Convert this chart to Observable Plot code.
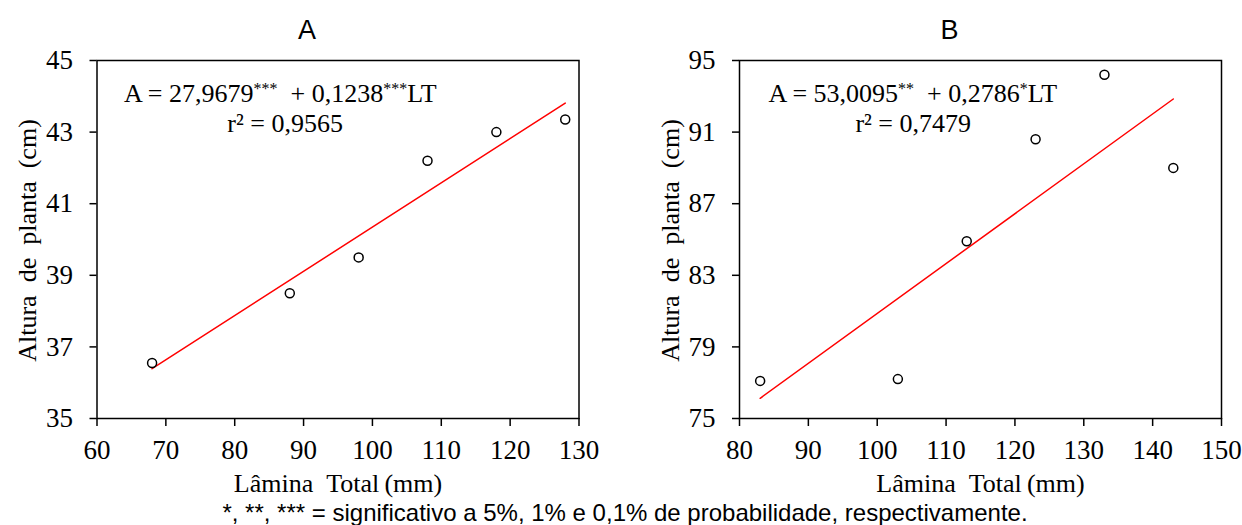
<!DOCTYPE html>
<html><head><meta charset="utf-8">
<script src="https://cdn.jsdelivr.net/npm/d3@7"></script>
<script src="https://cdn.jsdelivr.net/npm/@observablehq/plot@0.6"></script>
<style>
body{margin:0;background:#fff;width:1242px;height:525px;overflow:hidden;position:relative}
#row{display:flex}
#note{position:absolute;left:0;width:1250px;top:499px;text-align:center;font-family:"Liberation Sans",Arial,sans-serif;font-size:24px;line-height:28px;color:#000;white-space:nowrap}
</style></head><body>
<div id="row"></div>
<div id="note">*, **, *** = significativo a 5%, 1% e 0,1% de probabilidade, respectivamente.</div>
<script>
// Panel A data
const lamA = [68, 88, 98, 108, 118, 128];
const altA = [36.55, 38.5, 39.5, 42.2, 43.0, 43.35];
const fitXA = [68, 128];
const fitYA = [36.39, 43.81];
const xTicksA = [60, 70, 80, 90, 100, 110, 120, 130];
const yTicksA = [35, 37, 39, 41, 43, 45];
// Panel B data
const lamB = [83, 103, 113, 123, 133, 143];
const altB = [77.1, 77.2, 84.9, 90.6, 94.2, 89.0];
const fitXB = [83, 143];
const fitYB = [76.13, 92.85];
const xTicksB = [80, 90, 100, 110, 120, 130, 140, 150];
const yTicksB = [75, 79, 83, 87, 91, 95];

const serif = "'Liberation Serif','Times New Roman',serif";
const sans = "'Liberation Sans',Arial,sans-serif";
const xLabel = "Lâmina\u00a0\u00a0Total\u2009(mm)";
const yLabel = "Altura\u00a0\u00a0de\u00a0\u00a0planta\u00a0\u00a0(cm)";

function panel(o) {
  const data = o.lam.map((x, i) => ({x, y: o.alt[i]}));
  const fit = o.fitX.map((x, i) => ({x, y: o.fitY[i]}));
  const p = Plot.plot({
    width: o.width, height: 525,
    marginLeft: o.ml, marginRight: o.mr, marginTop: 60, marginBottom: 107,
    style: {fontFamily: serif, fontSize: "27px", color: "#000", background: "#fff", overflow: "visible"},
    x: {domain: [o.xTicks[0], o.xTicks[o.xTicks.length - 1]]},
    y: {domain: [o.yTicks[0], o.yTicks[o.yTicks.length - 1]]},
    marks: [
      Plot.axisX({ticks: o.xTicks, tickSize: 8, tickPadding: 13, strokeWidth: 1.5, label: null, fontSize: 27, fontFamily: serif}),
      Plot.axisY({ticks: o.yTicks, tickSize: 7, tickPadding: 17, strokeWidth: 1.5, label: null, fontSize: 27, fontFamily: serif}),
      Plot.line(fit, {x: "x", y: "y", stroke: "#ff0000", strokeWidth: 1.5}),
      Plot.dot(data, {x: "x", y: "y", r: 4.5, stroke: "#000", strokeWidth: 1.5, fill: "#fff"}),
      Plot.frame({stroke: "#000", strokeWidth: 1.5}),
      Plot.text([o.title], {frameAnchor: "top", lineAnchor: "middle", textAnchor: "middle", dx: -31, dy: -30, text: d => d, fontFamily: sans, fontSize: 27, fill: "#000"}),
      Plot.text([xLabel], {frameAnchor: "bottom", lineAnchor: "middle", textAnchor: "middle", dy: 65, text: d => d, fontFamily: serif, fontSize: 26, fill: "#000"}),
      Plot.text([yLabel], {frameAnchor: "left", lineAnchor: "middle", textAnchor: "middle", dx: -69, dy: 1, rotate: -90, text: d => d, fontFamily: serif, fontSize: 26, fill: "#000"})
    ]
  });
  const sx = p.scale("x"), sy = p.scale("y");
  const svg = d3.select(p);
  const eq = svg.append("text")
    .attr("x", sx.apply(o.eqPos[0])).attr("y", sy.apply(o.eqPos[1]))
    .attr("text-anchor", "start")
    .style("white-space", "pre")
    .attr("font-family", serif).attr("font-size", 26).attr("fill", "#000");
  let shift = 0;
  o.eq.forEach(([t, sup]) => {
    const ts = eq.append("tspan").text(t);
    if (sup) {
      ts.attr("font-size", 16).attr("dy", -8 - shift);
      shift = -8;
    } else {
      ts.attr("dy", -shift);
      shift = 0;
    }
  });
  svg.append("text")
    .attr("x", sx.apply(o.r2Pos[0])).attr("y", sy.apply(o.r2Pos[1]))
    .attr("text-anchor", "middle")
    .attr("font-family", serif).attr("font-size", 26).attr("fill", "#000")
    .text(o.r2);
  return p;
}

const row = document.getElementById("row");
row.append(panel({
  title: "A", lam: lamA, alt: altA, fitX: fitXA, fitY: fitYA,
  xTicks: xTicksA, yTicks: yTicksA, width: 621, ml: 96.5, mr: 42.5,
  eq: [["A = 27,9679"], ["***", true], ["  + 0,1238"], ["***", true], ["LT"]],
  eqPos: [64, 43.84], r2: "r² = 0,9565", r2Pos: [87.4, 42.99]
}));
row.append(panel({
  title: "B", lam: lamB, alt: altB, fitX: fitXB, fitY: fitYB,
  xTicks: xTicksB, yTicks: yTicksB, width: 621, ml: 118, mr: 21,
  eq: [["A = 53,0095"], ["**", true], ["  + 0,2786"], ["*", true], ["LT"]],
  eqPos: [84.3, 92.68], r2: "r² = 0,7479", r2Pos: [105.3, 90.98]
}));
</script>
</body></html>
